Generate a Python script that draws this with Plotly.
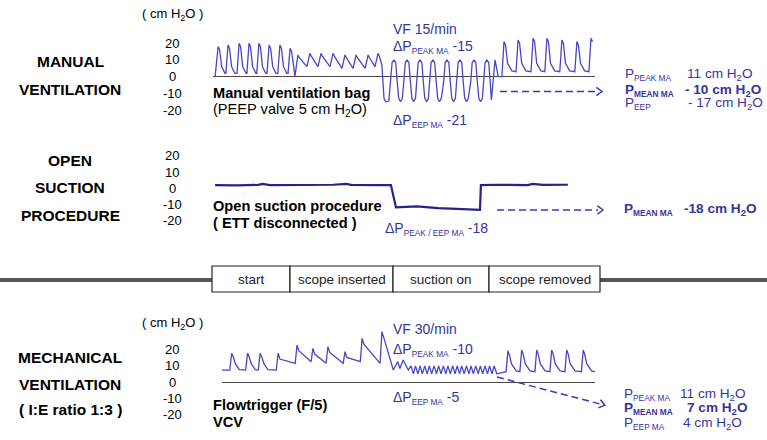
import math
import plotly.graph_objects as go

# ---------------- data (time in s, pressure in cm H2O) ----------------
tick_values = [20, 10, 0, -10, -20]
tick_labels = ["20", "10", "0", "-10", "-20"]
phase_labels = ["start", "scope inserted", "suction on", "scope removed"]

# Manual ventilation
mv_spike_t = [1.7, 5.0, 8.7, 12.0, 15.3, 18.7, 22.3, 25.7]
mv_spike_peak = [18, 19, 20, 20, 20, 19, 19, 17]
mv_spike_base = 2.0
mv_saw_t = [28.3, 32.3, 36.0, 40.0, 44.0, 47.7, 51.7, 55.0]
mv_saw_peak = [13, 14, 14, 14, 13, 13, 13, 14]
mv_saw_trough = [0, 6, 6, 6, 5, 5, 5, 6]
mv_entry_t = [56.3, 57.0, 57.6, 58.6]
mv_entry_p = [7, -13, -15, -14.6]
mv_osc_t = [60.3, 64.7, 69.0, 73.3, 78.0, 82.3, 87.0, 91.3]
mv_osc_peak = [10, 10, 10, 10, 10, 10, 10, 10]
mv_osc_trough = -15
mv_exit_t = [92.8, 94.0, 95.1]
mv_exit_p = [-14, 10, 0]
mv_end_t = [97.0, 101.7, 106.7, 111.3, 116.3, 121.3, 126.0]
mv_end_peak = [21, 22, 23, 23, 22, 21, 23]
mv_end_base = 3.0

# Open suction procedure
os_t = [0.7, 8, 15, 16.5, 19, 30, 40, 44.5, 46, 55, 59.3, 61.0, 64, 68, 75, 82, 89.0, 89.3, 95, 105, 106.5, 110, 118.3]
os_p = [2.0, 1.8, 2.1, 2.7, 2.0, 1.9, 2.2, 2.7, 2.1, 2.0, 2.0, -11.8, -11.6, -11.1, -12.2, -12.7, -13.3, 2.0, 2.2, 2.0, 2.7, 2.1, 2.2]

# Mechanical ventilation
me_start_t, me_start_p = 3.0, 7.3
me_breath_t = [6.2, 11.5, 15.7, 21.7, 28.0, 33.3, 38.3, 44.0, 49.7, 56.3]
me_breath_peak = [17.5, 17.5, 17.5, 17.5, 22.6, 20.5, 21.5, 18.5, 26.6, 30.7]
me_breath_trough = [7.3, 7.3, 7.3, 7.3, 11.4, 12.4, 11.4, 11.4, 12.4, 11.4]
me_breath_spike = [True, True, True, False, False, False, False, False, False, False]
me_trans_t = [60.1, 61.6, 62.3, 63.4, 65.1]
me_trans_p = [7.3, 12.4, 8.2, 13.4, 7.3]
me_zz_peak_t = [66.0, 67.5, 69.0, 70.6, 72.1, 73.7, 75.2, 76.8, 78.3, 79.9, 81.4,
                82.9, 84.5, 86.0, 87.6, 89.1, 90.7, 92.2, 93.7]
me_zz_trough_t = [66.8, 68.3, 69.8, 71.4, 72.9, 74.5, 76.0, 77.6, 79.1, 80.7, 82.2,
                  83.7, 85.3, 86.8, 88.4, 89.9, 91.5, 93.0, 94.6]
me_zz_peak = 9.8
me_zz_trough = 5.0
me_end_t = [98.3, 102.9, 107.9, 112.9, 117.9, 123.4]
me_end_peak = [19.0, 19.5, 19.5, 19.5, 19.5, 19.5]
me_end_base = 6.3
me_stop_t = 127.3

# ---------------- layout helpers ----------------
W, H = 767, 440
FONT = "Liberation Sans, Arial, sans-serif"
WAVE = "#4646c6"
BLUE = "#34349f"
PX_PER_S = 3.0


def X(px):
    return px / W


def Y(py):
    return 1 - py / H


def sub(s, size=8.3, bold=False):
    inner = "<b>{}</b>".format(s) if bold else s
    return '<sub><span style="font-size:{}px">{}</span></sub>'.format(size, inner)


# ---------------- build waveforms ----------------
mt, mp = [0.7], [0.0]
for i, (tp, pk) in enumerate(zip(mv_spike_t, mv_spike_peak)):
    if i > 0:
        mt.append(tp - 0.7); mp.append(mv_spike_base)
    mt += [tp, tp + 0.5, tp + 1.2]; mp += [pk, pk - 2, 6]
    if i < len(mv_spike_t) - 1:
        mt.append(tp + 2.3); mp.append(mv_spike_base)
for tp, pk, tr in zip(mv_saw_t, mv_saw_peak, mv_saw_trough):
    mt += [tp - 1.0, tp, tp + 0.4]; mp += [tr, pk, pk - 1.5]
mt += mv_entry_t; mp += mv_entry_p
for i, (tp, pk) in enumerate(zip(mv_osc_t, mv_osc_peak)):
    mt += [tp - 1.1, tp - 0.6, tp, tp + 0.6, tp + 1.1]
    mp += [-3, pk - 1.5, pk, pk - 1.5, -3]
    if i < len(mv_osc_t) - 1:
        mt += [tp + 1.6, tp + 2.2, tp + 2.8]
        mp += [mv_osc_trough + 2, mv_osc_trough, mv_osc_trough + 2]
mt += mv_exit_t; mp += mv_exit_p
for i, (tp, pk) in enumerate(zip(mv_end_t, mv_end_peak)):
    mt.append(tp - 0.7); mp.append(0 if i == 0 else mv_end_base)
    mt += [tp, tp + 0.5]; mp += [pk, pk - 2]
    if i < len(mv_end_t) - 1:
        mt += [tp + 1.2, tp + 2.6]; mp += [8, mv_end_base + 0.5]

et, ep = [me_start_t], [me_start_p]
for i in range(len(me_breath_t)):
    tp, pk, tr, sp = me_breath_t[i], me_breath_peak[i], me_breath_trough[i], me_breath_spike[i]
    et.append(tp - 0.6); ep.append(tr)
    et.append(tp); ep.append(pk)
    if sp:
        et += [tp + 0.5, tp + 1.3, tp + 2.6]; ep += [pk - 2, 11, tr + 0.3]
    else:
        et += [tp + 0.6]; ep += [pk - 3.5]
et += me_trans_t; ep += me_trans_p
for a, b in zip(me_zz_peak_t, me_zz_trough_t):
    et += [a, b]; ep += [me_zz_peak, me_zz_trough]
for i, (tp, pk) in enumerate(zip(me_end_t, me_end_peak)):
    et.append(tp - 0.6); ep.append(me_end_base)
    et += [tp, tp + 0.5, tp + 1.2, tp + 2.8]; ep += [pk, pk - 2.5, 11, me_end_base + 0.5]
et.append(me_stop_t); ep.append(me_end_base)

fig = go.Figure()
fig.add_trace(go.Scatter(x=mt, y=mp, mode="lines", line=dict(color=WAVE, width=1.3),
                         xaxis="x", yaxis="y", hoverinfo="skip"))
fig.add_trace(go.Scatter(x=os_t, y=os_p, mode="lines", line=dict(color="#23238c", width=2.2),
                         xaxis="x2", yaxis="y2", hoverinfo="skip"))
fig.add_trace(go.Scatter(x=et, y=ep, mode="lines", line=dict(color=WAVE, width=1.3),
                         xaxis="x3", yaxis="y3", hoverinfo="skip"))

panels = [
    dict(xd=(213, 595), t0=0.0, ytop=25, ybot=128, zero=76.7, scale=1.67, zl=True),
    dict(xd=(213, 595), t0=0.0, ytop=140, ybot=235, zero=188.3, scale=1.62, zl=False),
    dict(xd=(222, 595), t0=3.0, ytop=320, ybot=432, zero=382.0, scale=1.64, zl=True),
]
layout_axes = {}
for k, pnl in enumerate(panels, start=1):
    sfx = "" if k == 1 else str(k)
    t1 = pnl["t0"] + (pnl["xd"][1] - pnl["xd"][0]) / PX_PER_S
    layout_axes["xaxis" + sfx] = dict(domain=[X(pnl["xd"][0]), X(pnl["xd"][1])], range=[pnl["t0"], t1],
                                      visible=True, showgrid=False, zeroline=False, showticklabels=False,
                                      ticks="", showline=False, anchor="y" + sfx, fixedrange=True)
    layout_axes["yaxis" + sfx] = dict(domain=[Y(pnl["ybot"]), Y(pnl["ytop"])],
                                      range=[(pnl["zero"] - pnl["ybot"]) / pnl["scale"],
                                             (pnl["zero"] - pnl["ytop"]) / pnl["scale"]],
                                      showgrid=False, zeroline=pnl["zl"], zerolinecolor="#4a4a4a",
                                      zerolinewidth=1.2, showticklabels=False, ticks="", showline=False,
                                      anchor="x" + sfx, fixedrange=True)

ann = []


def txt(x, y, s, size=14, color="black", anchor="left"):
    ann.append(dict(x=X(x), y=Y(y), xref="paper", yref="paper", text=s, showarrow=False,
                    xanchor=anchor, yanchor="middle", font=dict(size=size, color=color, family=FONT)))


for yref in ["y", "y2", "y3"]:
    for v, lab in zip(tick_values, tick_labels):
        ann.append(dict(x=X(172), y=v, xref="paper", yref=yref, text=lab, showarrow=False,
                        xanchor="center", yanchor="middle", font=dict(size=13, color="black", family=FONT)))

H2O = "H<sub>2</sub>O"
txt(172, 15, "( cm " + H2O + " )", 13, anchor="center")
txt(172, 323, "( cm " + H2O + " )", 13, anchor="center")

for s, y in [("MANUAL", 62), ("VENTILATION", 89), ("OPEN", 160), ("SUCTION", 187), ("PROCEDURE", 215),
             ("MECHANICAL", 357), ("VENTILATION", 384), ("( I:E ratio 1:3 )", 409)]:
    txt(70, y, "<b>" + s + "</b>", 15.5, anchor="center")

txt(211, 93, "<b>Manual ventilation bag</b>", 14.6)
txt(211, 110, "(PEEP valve 5 cm " + H2O + ")", 14.6)
txt(211, 206, "<b>Open suction procedure</b>", 14.6)
txt(211, 223, "<b>( ETT disconnected )</b>", 14.6)
txt(211, 405, "<b>Flowtrigger (F/5)</b>", 14.6)
txt(211, 422, "<b>VCV</b>", 14.6)

BS = 14
txt(391, 29, "VF 15/min", BS, BLUE)
txt(391, 47, "ΔP" + sub("PEAK MA") + " -15", BS, BLUE)
txt(391, 121, "ΔP" + sub("EEP MA") + " -21", BS, BLUE)
txt(383, 229, "ΔP" + sub("PEAK / EEP MA") + " -18", BS, BLUE)
txt(391, 329, "VF 30/min", BS, BLUE)
txt(391, 350, "ΔP" + sub("PEAK MA") + " -10", BS, BLUE)
txt(391, 398, "ΔP" + sub("EEP MA") + " -5", BS, BLUE)

RS = 13.6
txt(623, 75, "P" + sub("PEAK MA"), RS, BLUE)
txt(685, 75, "11 cm " + H2O, RS, BLUE)
txt(623, 90, "<b>P</b>" + sub("MEAN MA", bold=True), RS, BLUE)
txt(683, 90, "<b>- 10 cm " + H2O + "</b>", RS, BLUE)
txt(623, 104, "P" + sub("EEP"), RS, BLUE)
txt(686, 104, "- 17 cm " + H2O, RS, BLUE)
txt(622, 209, "<b>P</b>" + sub("MEAN MA", bold=True), RS, BLUE)
txt(682, 209, "<b>-18 cm " + H2O + "</b>", RS, BLUE)
txt(622, 394, "P" + sub("PEAK MA"), RS, BLUE)
txt(678, 394, "11 cm " + H2O, RS, BLUE)
txt(622, 408, "<b>P</b>" + sub("MEAN MA", bold=True), RS, BLUE)
txt(685, 408, "<b>7 cm " + H2O + "</b>", RS, BLUE)
txt(622, 423, "P" + sub("EEP MA"), RS, BLUE)
txt(681, 423, "4 cm " + H2O, RS, BLUE)

cells = [212, 290, 393, 489, 600]
shapes = []
shapes.append(dict(type="line", xref="paper", yref="paper", x0=X(0), x1=X(212), y0=Y(280), y1=Y(280),
                   line=dict(color="#555555", width=4)))
shapes.append(dict(type="line", xref="paper", yref="paper", x0=X(600), x1=X(767), y0=Y(280), y1=Y(280),
                   line=dict(color="#555555", width=4)))
for i, lab in enumerate(phase_labels):
    shapes.append(dict(type="rect", xref="paper", yref="paper", x0=X(cells[i]), x1=X(cells[i + 1]),
                       y0=Y(292), y1=Y(266), line=dict(color="#222222", width=1.2), fillcolor="white"))
    txt((cells[i] + cells[i + 1]) / 2, 279.5, lab, 13.5, "#222222", anchor="center")


def arrow(x0, y0, x1, y1):
    shapes.append(dict(type="line", xref="paper", yref="paper", x0=X(x0), y0=Y(y0), x1=X(x1), y1=Y(y1),
                       line=dict(color="#3a3ab4", width=1.5, dash="7px,4px")))
    ang = math.atan2(y1 - y0, x1 - x0)
    tx, ty = x1 + 5 * math.cos(ang), y1 + 5 * math.sin(ang)
    pts = []
    for da in (2.5, -2.5):
        a = ang + da
        pts.append((tx + 7 * math.cos(a), ty + 7 * math.sin(a)))
    path = "M {} {} L {} {} L {} {}".format(X(pts[0][0]), Y(pts[0][1]), X(tx), Y(ty), X(pts[1][0]), Y(pts[1][1]))
    shapes.append(dict(type="path", xref="paper", yref="paper", path=path,
                       line=dict(color="#3a3ab4", width=1.5)))


arrow(500, 91.5, 597, 91.5)
arrow(497, 210, 598, 210)
arrow(497, 377, 600, 404)

fig.update_layout(width=W, height=H, margin=dict(l=0, r=0, t=0, b=0), paper_bgcolor="white",
                  plot_bgcolor="white", showlegend=False, annotations=ann, shapes=shapes, **layout_axes)
fig.write_html("out.html", config={"displayModeBar": False},
               post_script="document.body.style.margin='0';document.body.style.padding='0';")
